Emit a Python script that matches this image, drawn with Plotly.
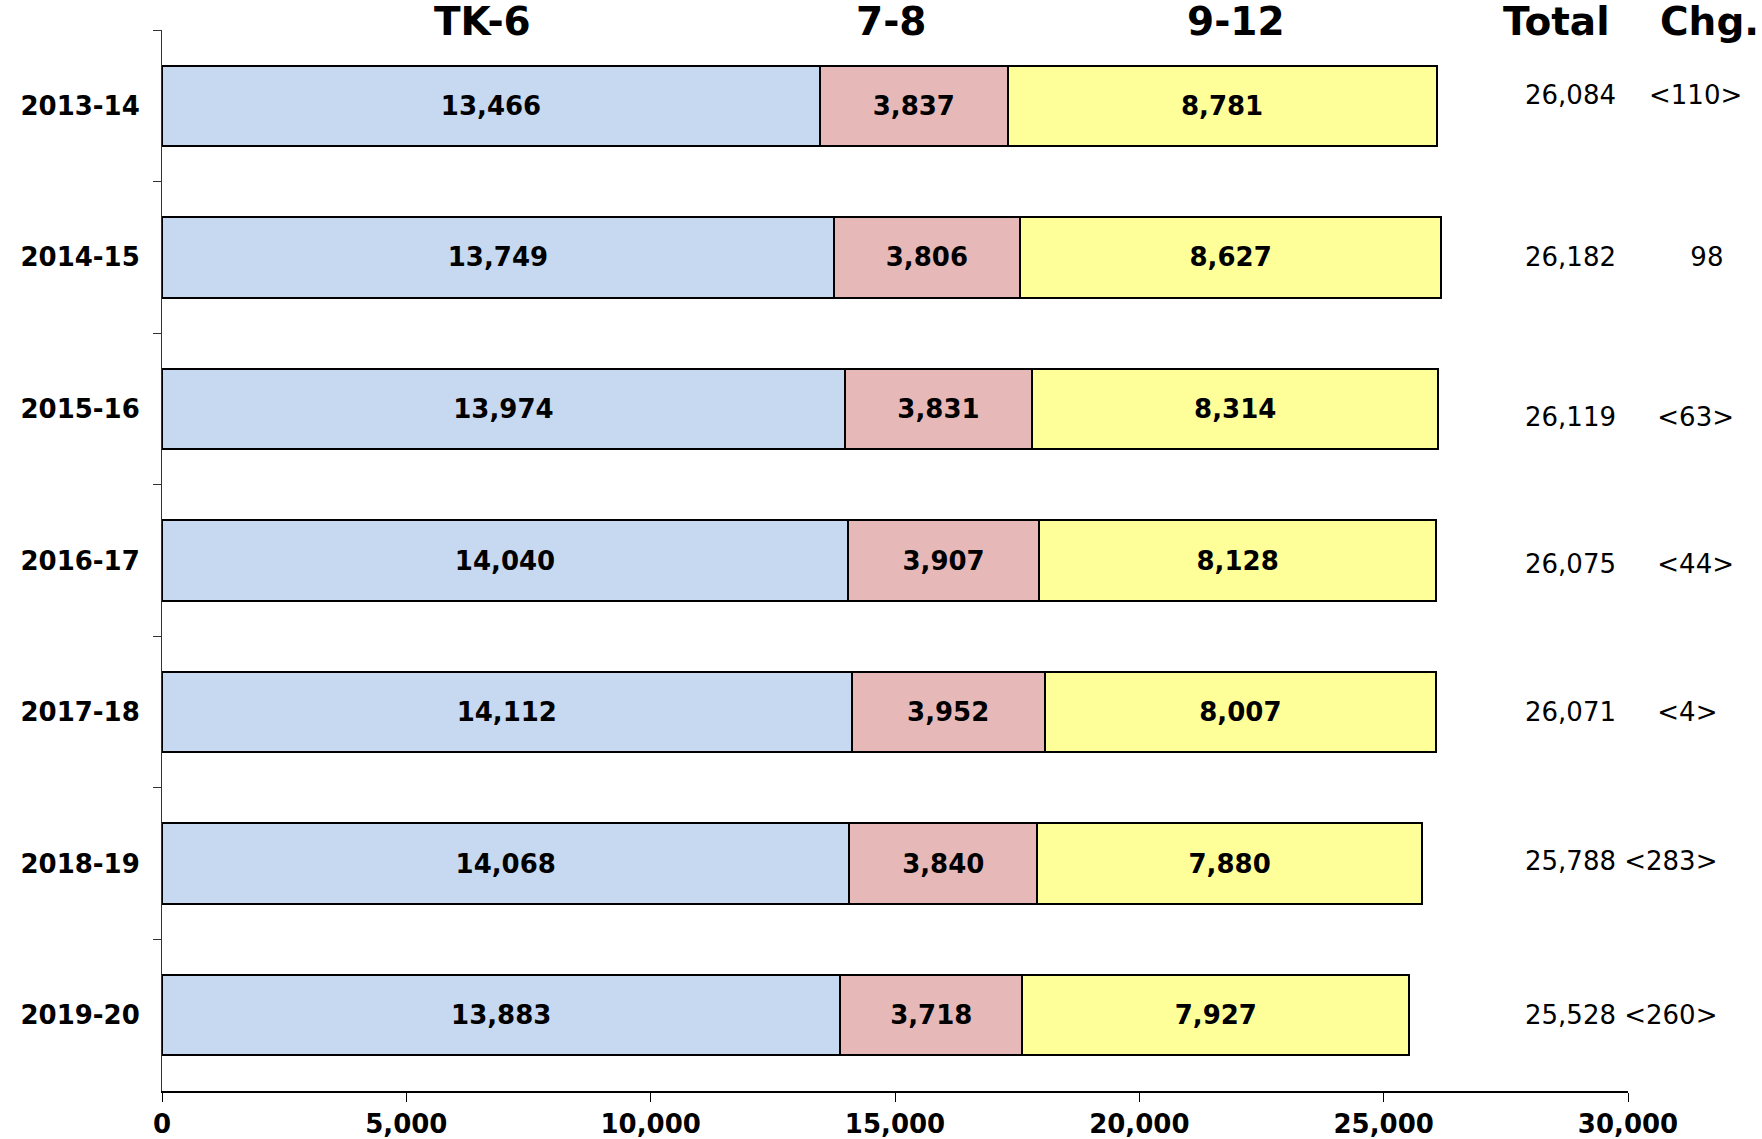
import plotly.graph_objects as go

# Enrollment by grade band, school years 2013-14 .. 2019-20
years = ["2013-14", "2014-15", "2015-16", "2016-17", "2017-18", "2018-19", "2019-20"]
tk_6 = [13466, 13749, 13974, 14040, 14112, 14068, 13883]
gr_7_8 = [3837, 3806, 3831, 3907, 3952, 3840, 3718]
gr_9_12 = [8781, 8627, 8314, 8128, 8007, 7880, 7927]
first_year_change = -110  # change versus 2012-13

series_names = ["TK-6", "7-8", "9-12"]
series_values = [tk_6, gr_7_8, gr_9_12]
series_colors = ["#C6D9F1", "#E6B9B8", "#FFFF99"]

totals = [a + b + c for a, b, c in zip(tk_6, gr_7_8, gr_9_12)]
changes = [first_year_change] + [totals[i] - totals[i - 1] for i in range(1, len(totals))]


def fmt_change(v):
    return f"<{abs(v)}>" if v < 0 else f"{v}"


# spacing between total and change in the right-hand column
gap_spaces = [4, 9, 5, 5, 5, 1, 1]
row_shift = [11, 0, -8, -3, 0, 3, 0]

FONT = "DejaVu Sans"

fig = go.Figure()
for name, vals, color in zip(series_names, series_values, series_colors):
    fig.add_trace(go.Bar(
        y=years, x=vals, name=name, orientation="h",
        marker=dict(color=color, line=dict(color="#000000", width=2)),
        text=[f"{v:,}" for v in vals], textposition="inside",
        insidetextanchor="middle",
        textfont=dict(family=FONT, size=26, color="#000000", weight="bold"),
        hoverinfo="skip",
    ))

W, H = 1762, 1139
ml, mr, mt, mb = 162, 134, 30, 48
pw = W - ml - mr
ph = H - mt - mb


def px_to_paper_x(px):
    return (px - ml) / pw


annotations = []
# column headers
for label, px in zip(series_names + ["Total", "Chg."], [482, 891, 1236, 1556, 1709]):
    annotations.append(dict(
        text=label, xref="paper", yref="paper", x=px_to_paper_x(px), y=1 + 8 / ph,
        xanchor="center", yanchor="middle", showarrow=False,
        font=dict(family=FONT, size=39, color="#000000", weight="bold"),
    ))

# total and change per row
for yr, tot, chg, gap, sh in zip(years, totals, changes, gap_spaces, row_shift):
    annotations.append(dict(
        text=f"{tot:,}" + "\u00a0" * gap + fmt_change(chg).replace("<", "&lt;").replace(">", "&gt;"),
        xref="paper", yref="y", x=px_to_paper_x(1523), y=yr, yshift=sh,
        xanchor="left", yanchor="middle", showarrow=False,
        font=dict(family=FONT, size=26, color="#000000"),
    ))

fig.update_layout(
    width=W, height=H,
    margin=dict(l=ml, r=mr, t=mt, b=mb),
    barmode="stack", bargap=0.47,
    plot_bgcolor="#FFFFFF", paper_bgcolor="#FFFFFF",
    showlegend=False,
    annotations=annotations,
    uniformtext=dict(mode=False),
)
fig.update_xaxes(
    range=[0, 30000], tickvals=[0, 5000, 10000, 15000, 20000, 25000, 30000],
    tickformat=",d", showgrid=False, zeroline=False, automargin=False,
    showline=True, linecolor="#000000", linewidth=2,
    ticks="outside", ticklen=9, tickcolor="#000000", tickwidth=1,
    tickfont=dict(family=FONT, size=26, color="#000000", weight="bold"),
)
fig.update_yaxes(
    autorange="reversed", showgrid=False, zeroline=False, automargin=False,
    showline=True, linecolor="#333333", linewidth=1,
    ticks="outside", tickson="boundaries", ticklen=8, tickcolor="#333333", tickwidth=1,
    ticklabelstandoff=16,
    tickfont=dict(family=FONT, size=26, color="#000000", weight="bold"),
)

fig.write_html("out.html")
